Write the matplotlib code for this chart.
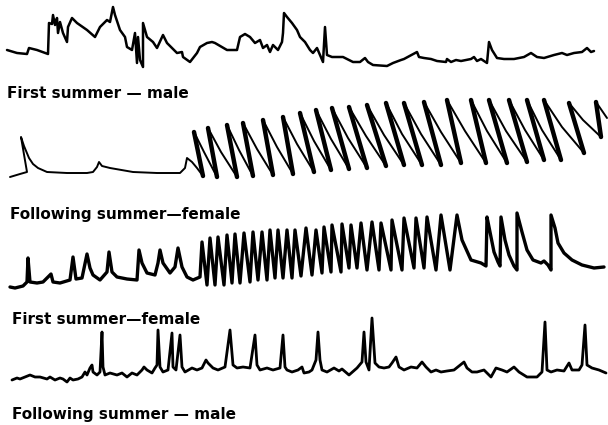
import matplotlib
matplotlib.use("Agg")
import matplotlib.pyplot as plt

# ---------------- data (time units, amplitude units) -------------
# Trace 1: First summer - male
t1_x = [7,17,27,29,37,48,49,52,53,55,57,58,60,63,67,68,72,77,87,95,100,107,110,113,115,120,125,127,132,135,137,138,140,143,143,147,153,157,163,167,177,182,183,190,197,200,207,212,215,227,237,240,245,250,255,260,263,267,270,273,278,282,283,284,287,292,297,300,305,310,313,317,320,323,325,327,332,343,353,360,365,368,373,387,393,401,404,417,419,424,431,437,446,447,451,456,461,471,474,477,481,487,489,492,497,504,514,524,531,537,544,554,562,567,574,582,587,591,594]
t1_y = [50,53,54,48,50,54,23,24,15,25,18,33,22,33,42,27,18,23,30,37,27,20,22,7,15,30,37,47,50,33,63,37,60,67,23,37,42,48,35,43,53,52,57,62,53,47,43,42,43,50,50,37,34,37,43,40,48,45,52,45,50,42,33,13,17,23,30,37,42,50,53,48,55,62,27,55,57,57,62,62,58,62,65,66,63,60,59,52,57,58,59,61,62,59,62,60,61,59,57,61,59,63,42,50,58,59,59,57,53,57,58,55,53,55,53,52,48,52,51]

# Trace 2: Following summer - female
t2_lead_x = [10,20,27,21,24,29,33,38,47,67,87,93,97,99,102,110,133,157,180,185,187,192,197]
t2_lead_y = [177,174,172,137,146,158,164,168,172,173,173,172,167,162,166,168,172,173,173,168,158,162,168]
t2_trough_x = [203,217,237,253,273,293,314,331,349,367,386,404,422,441,461,486,507,527,544,561,584,601]
t2_trough_y = [176,177,177,176,175,174,172,170,169,168,166,165,165,165,163,163,163,162,160,160,153,137]
t2_peak_x = [194,208,227,243,263,283,300,316,332,349,367,386,404,424,447,471,489,509,527,544,569,596]
t2_peak_y = [132,128,125,123,120,117,113,110,108,107,105,103,103,102,100,100,100,100,100,100,103,102]
t2_kink_x = [204,221,239,257,277,297,314,331,348,366,384,402,421,441,465,487,506,525,542,562,583]
t2_kink_y = [152,152,150,149,147,144,141,139,138,136,135,134,134,132,131,131,131,130,130,127,120]
t2_tail_x = [607]
t2_tail_y = [118]

# Trace 3: First summer - female
t3_x = [10,15,23,27,28,30,37,43,49,51,53,60,70,73,76,82,87,90,93,100,107,109,112,117,127,137,139,142,147,155,158,160,163,170,175,178,182,187,193,200,
        202,207,210,215,218,224,227,232,235,240,244,250,253,258,262,267,270,275,278,283,287,292,295,301,306,312,316,322,324,331,332,341,342,349,351,357,361,367,372,379,381,391,392,402,404,414,416,424,427,436,441,450,457,462,471,481,
        486,487,490,494,498,500,501,505,509,514,517,517,522,527,533,541,544,548,551,551,555,558,564,572,582,594,604]
t3_y = [287,288,286,282,258,282,283,282,276,274,282,283,280,257,279,278,254,268,275,280,272,252,272,277,279,280,250,263,273,275,263,250,263,273,267,248,267,277,280,277,
        242,285,238,285,237,285,235,283,234,283,233,282,232,280,232,280,230,278,230,278,230,278,230,276,228,275,230,273,227,272,225,272,224,268,225,268,223,270,222,270,223,270,220,270,218,268,218,268,217,270,215,270,215,240,260,263,
        266,217,232,252,262,266,217,240,255,266,270,213,232,250,260,263,261,265,270,215,228,243,253,260,265,268,267]

# Trace 4: Following summer - male
t4_x = [12,17,20,25,30,35,40,47,50,55,60,63,67,70,73,78,82,85,87,90,92,93,97,100,102,103,105,110,117,122,127,132,137,142,144,147,152,155,157,158,160,163,168,172,173,176,180,182,185,192,197,202,206,208,213,218,225,230,233,237,243,250,255,257,260,267,273,280,283,285,287,292,298,302,
        304,309,312,316,318,320,322,327,334,339,342,349,357,362,364,366,369,372,375,379,384,389,392,396,399,404,411,417,422,426,431,436,441,447,454,464,467,472,477,484,491,496,502,507,514,519,527,537,542,545,547,551,557,564,569,572,579,582,585,587,592,599,606]
t4_y = [380,378,379,377,375,377,377,379,377,380,378,379,382,378,380,379,377,372,375,368,365,372,375,372,332,367,375,373,375,373,377,373,375,370,367,370,373,368,365,330,367,372,370,333,367,370,335,367,372,368,370,368,360,363,368,370,367,330,365,368,367,368,335,365,370,368,370,368,335,367,370,372,370,367,
        373,372,370,360,332,360,370,372,368,371,369,375,368,362,332,362,370,318,363,367,368,367,363,357,367,370,367,368,362,367,372,370,372,371,370,362,368,372,372,370,377,368,370,372,367,372,377,377,372,322,370,372,370,371,363,370,370,365,325,365,368,370,373]

labels = ["First summer \u2014 male", "Following summer\u2014female",
          "First summer\u2014female", "Following summer \u2014 male"]
label_x = [7, 10, 12, 12]
label_y = [93, 214, 320, 415]

# ---------------- build trace 2 path ----------------
t2_x = list(t2_lead_x)
t2_y = list(t2_lead_y)
n = len(t2_peak_x)
for k in range(n):
    t2_x += [t2_trough_x[k], t2_peak_x[k]]
    t2_y += [t2_trough_y[k], t2_peak_y[k]]
    if k < len(t2_kink_x):
        t2_x.append(t2_kink_x[k])
        t2_y.append(t2_kink_y[k])
t2_x += t2_tail_x
t2_y += t2_tail_y

# ---------------- draw ----------------
fig = plt.figure(figsize=(6.08, 4.25), dpi=100)
ax = fig.add_axes([0, 0, 1, 1])
ax.set_xlim(0, 608)
ax.set_ylim(425, 0)
ax.axis("off")

kw = dict(color="black", solid_joinstyle="round", solid_capstyle="round")
ax.plot(t1_x, t1_y, lw=1.8, **kw)
ax.plot(t2_x, t2_y, lw=1.4, **kw)
for k in range(n):
    ax.plot([t2_trough_x[k], t2_peak_x[k]], [t2_trough_y[k], t2_peak_y[k]], lw=3.2, **kw)
ax.plot(t3_x, t3_y, lw=2.4, **kw)
ax.plot(t4_x, t4_y, lw=2.0, **kw)

for s, x, y in zip(labels, label_x, label_y):
    ax.text(x, y, s, ha="left", va="center", fontsize=11, fontweight="bold",
            family="DejaVu Sans", color="black")

fig.savefig("out.png", dpi=100, facecolor="white")
